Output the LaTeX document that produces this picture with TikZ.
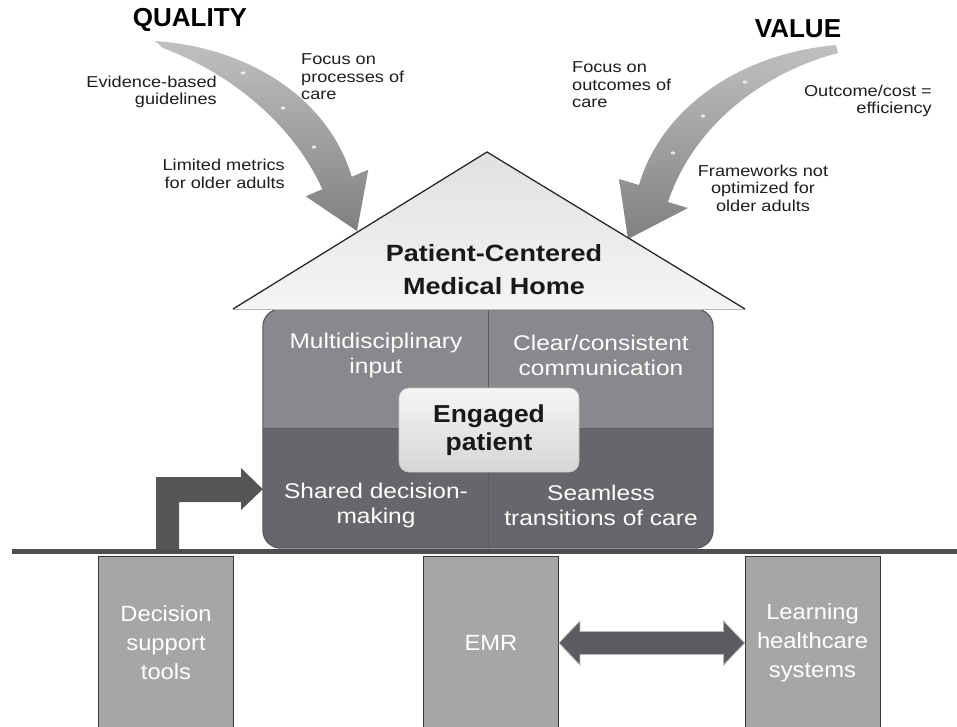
\documentclass[tikz,border=0pt]{standalone}
\usepackage{fontspec}
\setmainfont{Liberation Sans}[FakeStretch=1.15]
\newfontfamily\titlefont{Liberation Sans}
\newfontfamily\pilfont{Liberation Sans}[FakeStretch=1.08]
\usetikzlibrary{calc}
\definecolor{houseTop}{RGB}{137,137,141}
\definecolor{houseBot}{RGB}{103,103,107}
\definecolor{houseBorder}{RGB}{85,85,89}
\definecolor{dividerC}{RGB}{92,92,96}
\definecolor{pillarC}{RGB}{166,166,168}
\definecolor{pillarLine}{RGB}{55,55,58}
\definecolor{darrowC}{RGB}{92,92,96}
\definecolor{larrowC}{RGB}{85,85,88}
\definecolor{groundC}{RGB}{78,78,80}
\definecolor{arrLight}{RGB}{192,192,192}
\definecolor{arrDark}{RGB}{128,128,130}
\definecolor{roofLine}{RGB}{40,40,40}
\definecolor{lblC}{RGB}{30,30,30}
\tikzset{
  lbl/.style={font=\fontsize{15.8}{17.5}\selectfont, text=lblC, inner sep=0pt},
  titlelbl/.style={font=\titlefont\bfseries\fontsize{26}{30}\selectfont, text=black, inner sep=0pt},
  htext/.style={font=\fontsize{21.3}{25}\selectfont, text=white, align=center, inner sep=0pt},
  rooftext/.style={font=\bfseries\fontsize{23.5}{33}\selectfont, text=black!90, align=center, inner sep=0pt},
  engbox/.style={rounded corners=10pt, minimum width=180pt, minimum height=84pt, top color=gray!8, bottom color=gray!32, draw=gray!45, line width=0.6pt, font=\pilfont\bfseries\fontsize{24.5}{28}\selectfont, align=center, text=black!90, inner sep=0pt},
  pillar/.style={draw=pillarLine, line width=0.9pt, fill=pillarC, minimum width=135pt, minimum height=174pt, text=white, align=center, inner sep=0pt, font=\pilfont\fontsize{22}{29}\selectfont},
  arrowdot/.style={fill=white, opacity=0.75},
}
\begin{document}
\begin{tikzpicture}[x=1pt,y=-1pt]
\useasboundingbox (0,0) rectangle (957,726);
\clip (0,0) rectangle (957,726);

% house body
\node[minimum width=450pt, minimum height=239pt, inner sep=0pt] (house) at (488,428.5) {};
\begin{scope}
  \clip[rounded corners=18pt] (house.north west) rectangle (house.south east);
  \fill[houseTop] (house.north west) rectangle (house.east);
  \fill[houseBot] (house.west) rectangle (house.south east);
\end{scope}
\draw[dividerC, line width=0.8pt] (house.north) -- (house.south);
\draw[dividerC, line width=0.6pt] (house.west) -- (house.east);
\draw[houseBorder, line width=1pt, rounded corners=18pt] (house.north west) rectangle (house.south east);

% curved arrows
\shade[top color=arrLight, bottom color=arrDark]
  (155,41) .. controls (255,48) and (330,103) .. (351.7,176.8)
  -- (368.3,169.7) -- (357,231) -- (305.7,196.3) -- (322.3,189.2)
  .. controls (295,128) and (235,75) .. (163,48) -- cycle;
\shade[top color=arrLight, bottom color=arrDark]
  (836,45) .. controls (735,54) and (660,112) .. (639,185)
  -- (619,179) -- (628,239) -- (688,208) -- (668,202)
  .. controls (694,124) and (765,72) .. (838,53) -- cycle;
\foreach \p in {(243,73),(283,108),(314,147),(745,82),(703,116),(673,153)}
  \fill[arrowdot] \p ellipse (2.3pt and 1.6pt);

% roof
\coordinate (apex) at (487,152);
\coordinate (rl) at (233,309);
\coordinate (rr) at (745,309);
\shade[top color=gray!24, bottom color=gray!8] (rl) -- (apex) -- (rr) -- cycle;
\draw[gray!55, line width=0.8pt] (rl) -- (rr);
\draw[roofLine, line width=1.3pt, line join=miter] (rl) -- (apex) -- (rr);
\node[rooftext] (pcmh) at (494,270) {Patient-Centered\\Medical Home};

% quadrant texts
\node[htext] (q1) at (376,355) {Multidisciplinary\\input};
\node[htext] (q2) at (601,355) {Clear/consistent\\communication};
\node[htext] (q3) at (376,505) {Shared decision-\\making};
\node[htext] (q4) at (601,505) {Seamless\\transitions of care};
\node[engbox] (eng) at (489,430) {Engaged\\patient};

% pillars
\node[pillar] (dst) at (166,643) {Decision\\support\\tools};
\node[pillar] (emr) at (491,643) {EMR};
\node[pillar] (lhs) at (812.5,643) {Learning\\healthcare\\systems};

% ground
\coordinate (gl) at (12,551);
\coordinate (gr) at (957,551);
\draw[groundC, line width=5pt] (gl) -- (gr);

% L arrow to the house
\coordinate (ltip) at ($(house.south west)+(0,-59)$);
\fill[larrowC] (156,549) -- (156,477) -- (241,477) -- (241,468) -- (ltip)
  -- (241,510) -- (241,502) -- (179,502) -- (179,549) -- cycle;

% double arrow EMR <-> learning
\coordinate (arow) at (0,643);
\coordinate (dl) at (emr.east |- arow);
\coordinate (dr) at (lhs.west |- arow);
\fill[darrowC, draw=gray!55, line width=0.8pt]
  (dl) -- ++(21,-22) -- ++(0,10.5) -- ($(dr)+(-21,-11.5)$) -- ++(0,-10.5)
  -- (dr) -- ++(-21,22) -- ++(0,-10.5) -- ($(dl)+(21,11.5)$) -- ++(0,10.5) -- cycle;

% titles and labels
\node[titlelbl] (qual) at (190,20) {QUALITY};
\node[titlelbl] (val) at (798,29) {VALUE};
\node[lbl, align=right, anchor=east] (eb) at (217,92) {Evidence-based\\guidelines};
\node[lbl, align=right, anchor=east] (lm) at (285,174) {Limited metrics\\for older adults};
\node[lbl, align=left, anchor=west] (fp) at (301,77) {Focus on\\processes of\\care};
\node[lbl, align=left, anchor=west] (fo) at (572,85) {Focus on\\outcomes of\\care};
\node[lbl, align=right, anchor=east] (oc) at (932,101) {Outcome/cost =\\efficiency};
\node[lbl, align=center] (fn) at (763,188) {Frameworks not\\optimized for\\older adults};
\end{tikzpicture}
\end{document}
